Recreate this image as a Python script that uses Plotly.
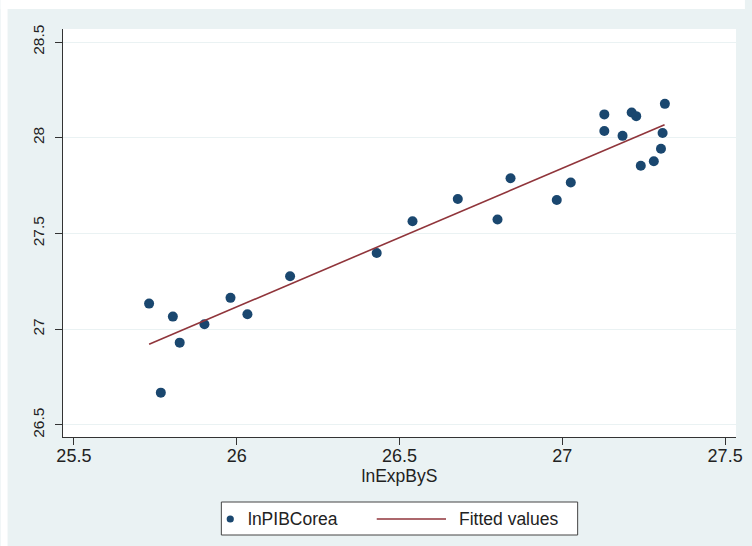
import plotly.graph_objects as go

# Scatter data: lnExpByS (x) vs lnPIBCorea (y)
ln_exp = [25.731, 25.767, 25.804, 25.825, 25.901, 25.981, 26.033, 26.164,
          26.430, 26.540, 26.679, 26.801, 26.841, 26.983, 27.026,
          27.129, 27.129, 27.185, 27.213, 27.227, 27.241, 27.281, 27.303, 27.308, 27.315]
ln_pib = [27.134, 26.669, 27.066, 26.930, 27.026, 27.164, 27.078, 27.277,
          27.398, 27.564, 27.680, 27.573, 27.789, 27.675, 27.766,
          28.122, 28.035, 28.010, 28.132, 28.113, 27.854, 27.877, 27.943, 28.025, 28.177]

# Fitted values line (endpoints)
fit_x = [25.731, 27.314]
fit_y = [26.922, 28.068]

x_ticks = [25.5, 26, 26.5, 27, 27.5]
x_ticklabels = ["25.5", "26", "26.5", "27", "27.5"]
y_ticks = [26.5, 27, 27.5, 28, 28.5]
y_ticklabels = ["26.5", "27", "27.5", "28", "28.5"]

series_names = ["lnPIBCorea", "Fitted values"]
x_title = "lnExpByS"

NAVY = "#1A476F"
MAROON = "#90353B"
BG = "#EAF2F3"
FONT = "Liberation Sans, Arial, sans-serif"
TXT = "#222222"

fig = go.Figure()
fig.add_trace(go.Scatter(
    x=ln_exp, y=ln_pib, mode="markers", name=series_names[0],
    marker=dict(color=NAVY, size=10, line=dict(width=0)),
))
fig.add_trace(go.Scatter(
    x=fit_x, y=fit_y, mode="lines", name=series_names[1],
    line=dict(color=MAROON, width=1.6),
))

W, H = 752, 546
L, R, T, B = 63, 9, 29, 109
pw, ph = W - L - R, H - T - B

def px_x(p):
    return (p - L) / pw

def px_y(p):
    return (H - B - p) / ph

LEG_Y = 519
shapes = [
    # white strip on top and left (outside the graph region)
    dict(type="rect", xref="paper", yref="paper", x0=px_x(0), x1=px_x(W),
         y0=px_y(9), y1=px_y(0), fillcolor="white", line=dict(width=0), layer="below"),
    dict(type="rect", xref="paper", yref="paper", x0=px_x(0), x1=px_x(7),
         y0=px_y(H), y1=px_y(0), fillcolor="white", line=dict(width=0), layer="below"),
    # legend box
    dict(type="rect", xref="paper", yref="paper", x0=px_x(223), x1=px_x(583),
         y0=px_y(535), y1=px_y(502), fillcolor="white",
         line=dict(color="#444444", width=1), layer="above"),
    # legend marker
    dict(type="circle", xref="paper", yref="paper", xsizemode="pixel", ysizemode="pixel",
         xanchor=px_x(232), yanchor=px_y(LEG_Y), x0=-3.6, x1=3.6, y0=-3.6, y1=3.6,
         fillcolor=NAVY, line=dict(width=0), layer="above"),
    # legend line
    dict(type="line", xref="paper", yref="paper", x0=px_x(380), x1=px_x(450),
         y0=px_y(LEG_Y), y1=px_y(LEG_Y), line=dict(color=MAROON, width=1.6), layer="above"),
]

annotations = [
    dict(text=series_names[0], xref="paper", yref="paper", x=px_x(248), y=px_y(LEG_Y),
         xanchor="left", yanchor="middle", showarrow=False,
         font=dict(family=FONT, size=17.5, color=TXT)),
    dict(text=series_names[1], xref="paper", yref="paper", x=px_x(461), y=px_y(LEG_Y),
         xanchor="left", yanchor="middle", showarrow=False,
         font=dict(family=FONT, size=17.5, color=TXT)),
]

fig.update_layout(
    width=W, height=H,
    margin=dict(l=L, r=R, t=T, b=B, pad=0),
    paper_bgcolor=BG,
    plot_bgcolor="white",
    font=dict(family=FONT, color=TXT, size=16),
    shapes=shapes,
    annotations=annotations,
    showlegend=False,
    xaxis=dict(
        range=[25.4666, 27.5334],
        tickmode="array", tickvals=x_ticks, ticktext=x_ticklabels,
        ticks="outside", ticklen=7, tickcolor="#333333", tickwidth=1,
        showline=True, linecolor="#333333", linewidth=1,
        showgrid=False, zeroline=False,
        tickfont=dict(size=18), ticklabelstandoff=-5,
        title=dict(text=x_title, font=dict(size=17.5), standoff=2),
    ),
    yaxis=dict(
        range=[26.4373, 28.568],
        tickmode="array", tickvals=y_ticks, ticktext=y_ticklabels,
        ticks="outside", ticklen=7, tickcolor="#333333", tickwidth=1,
        showline=True, linecolor="#333333", linewidth=1,
        showgrid=True, gridcolor="#EAF2F3", gridwidth=1,
        zeroline=False, tickangle=-90,
        tickfont=dict(size=15.5), ticklabelstandoff=5,
    ),
)

fig.write_html("out.html")
